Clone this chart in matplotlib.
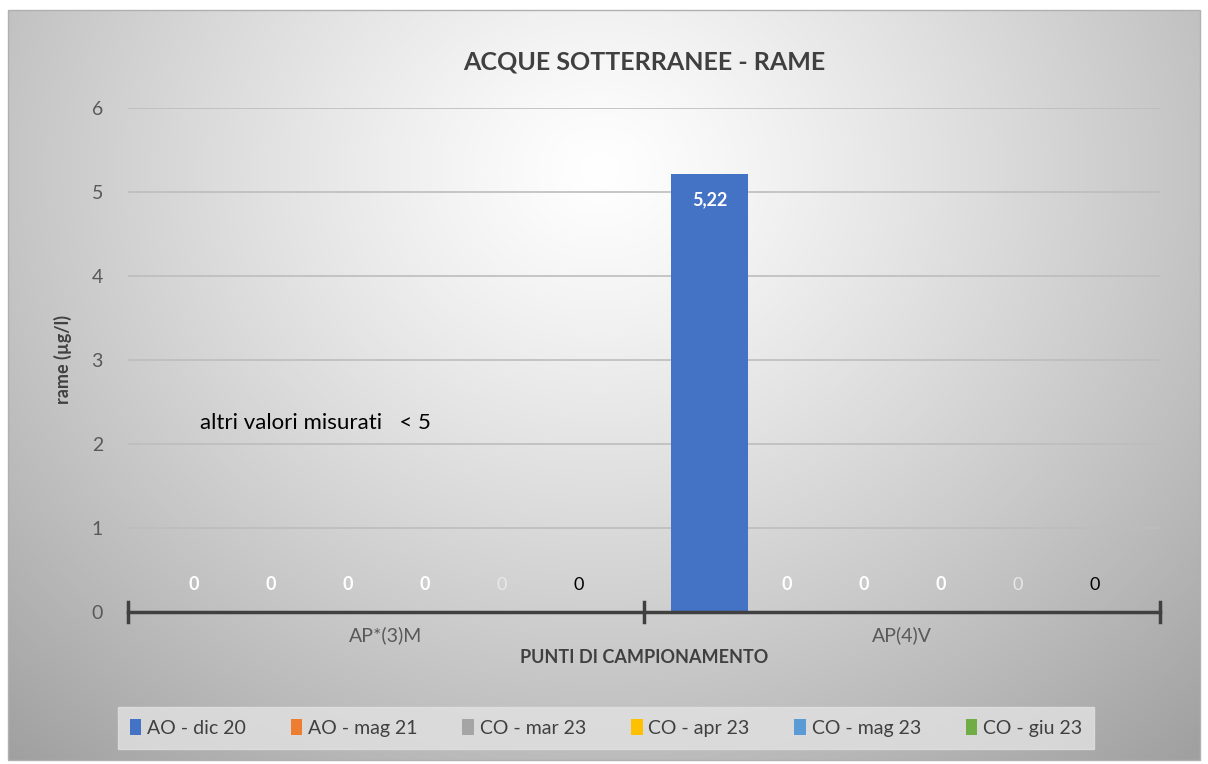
import matplotlib.pyplot as plt
import numpy as np
from matplotlib.patches import Rectangle

plt.rcParams['font.family'] = ['Lato', 'DejaVu Sans']

# Data
categories = ['AP*(3)M', 'AP(4)V']
series = ['AO - dic 20', 'AO - mag 21', 'CO - mar 23', 'CO - apr 23', 'CO - mag 23', 'CO - giu 23']
values = [
    [0, 5.22],   # AO - dic 20
    [0, 0],      # AO - mag 21
    [0, 0],      # CO - mar 23
    [0, 0],      # CO - apr 23
    [0, 0],      # CO - mag 23
    [0, 0],      # CO - giu 23
]
colors = ['#4472C4', '#ED7D31', '#A5A5A5', '#FFC000', '#5B9BD5', '#70AD47']
label_colors = ['white', 'white', 'white', 'white', '#e8e8e8', 'black']
label_weights = ['bold', 'bold', 'bold', 'bold', 'normal', 'normal']

fig = plt.figure(figsize=(12.08, 7.64), dpi=100)

# background with radial gradient
bg = fig.add_axes([0, 0, 1, 1])
bg.set_xlim(0, 1208)
bg.set_ylim(764, 0)
bg.axis('off')
yy, xx = np.mgrid[10:760, 8:1200]
r = np.sqrt(((xx - 600) / 680.0) ** 2 + ((yy - 170) / 600.0) ** 2)
shade = 1.0 - 0.27 * np.clip(r, 0, 1.3) ** 1.2
img = np.dstack([shade, shade, shade])
bg.imshow(img, extent=(8, 1200, 760, 10), aspect='auto', interpolation='bilinear')
bg.add_patch(Rectangle((8, 10), 1192, 750, fill=False, edgecolor='#b0b0b0', lw=1))

ax = fig.add_axes([128 / 1208, 1 - 612 / 764, (1160 - 128) / 1208, (612 - 108) / 764])
ax.patch.set_alpha(0)

x = np.arange(len(categories))
n = len(series)
group = 0.895
width = group / n
for i, (name, vals) in enumerate(zip(series, values)):
    pos = x - group / 2 + width * (i + 0.5)
    bars = ax.bar(pos, vals, width, color=colors[i], label=name, zorder=3)
    for b, v in zip(bars, vals):
        cx = b.get_x() + b.get_width() / 2
        if v > 0:
            ax.annotate(f'{v:.2f}'.replace('.', ','), (cx, v), xytext=(0, -13), textcoords='offset points',
                        ha='center', va='top', color='white', fontsize=13, fontweight='bold', zorder=4)
        else:
            ax.annotate(f'{v:g}', (cx, v), xytext=(0, 14), textcoords='offset points',
                        ha='center', va='bottom', color=label_colors[i], fontsize=13,
                        fontweight=label_weights[i], zorder=4)

ax.set_xlim(-0.5, 1.5)
ax.set_ylim(0, 6)
ax.set_yticks(range(0, 7))
ax.yaxis.grid(True, color='#bdbdbd', lw=1.2, zorder=0)
ax.tick_params(axis='y', length=0, labelsize=14, labelcolor='#595959', pad=18)
ax.set_xticks(x)
ax.set_xticklabels(categories)
ax.tick_params(axis='x', length=0, labelsize=14, labelcolor='#595959', pad=10)
for s in ['top', 'right', 'left']:
    ax.spines[s].set_visible(False)
ax.spines['bottom'].set_color('#404040')
ax.spines['bottom'].set_linewidth(2.5)
ax.spines['bottom'].set_zorder(5)
for bx in [-0.5, 0.5, 1.5]:
    ax.plot([bx, bx], [-0.12, 0.12], color='#404040', lw=2.5, clip_on=False, zorder=5)

ax.set_ylabel('rame (µg/l)', fontsize=13, fontweight='bold', color='#404040', labelpad=14)
ax.set_xlabel('PUNTI DI CAMPIONAMENTO', fontsize=13, fontweight='bold', color='#404040', labelpad=4)
ax.set_title('ACQUE SOTTERRANEE - RAME', fontsize=18, fontweight='bold', color='#404040', pad=28)

ax.text(-0.36, 2.25, 'altri valori misurati   < 5', fontsize=16, color='black', va='center')

leg = fig.legend(loc='center', bbox_to_anchor=(606 / 1208, 1 - 728 / 764), ncol=6, fontsize=14,
                 frameon=True, handlelength=0.6, handleheight=0.9, handletextpad=0.3, columnspacing=2.3,
                 borderpad=0.6, fancybox=False)
leg.get_frame().set_facecolor('#e2e2e2')
leg.get_frame().set_edgecolor('#e2e2e2')
for t in leg.get_texts():
    t.set_color('#404040')

fig.savefig('out.png', dpi=100)
